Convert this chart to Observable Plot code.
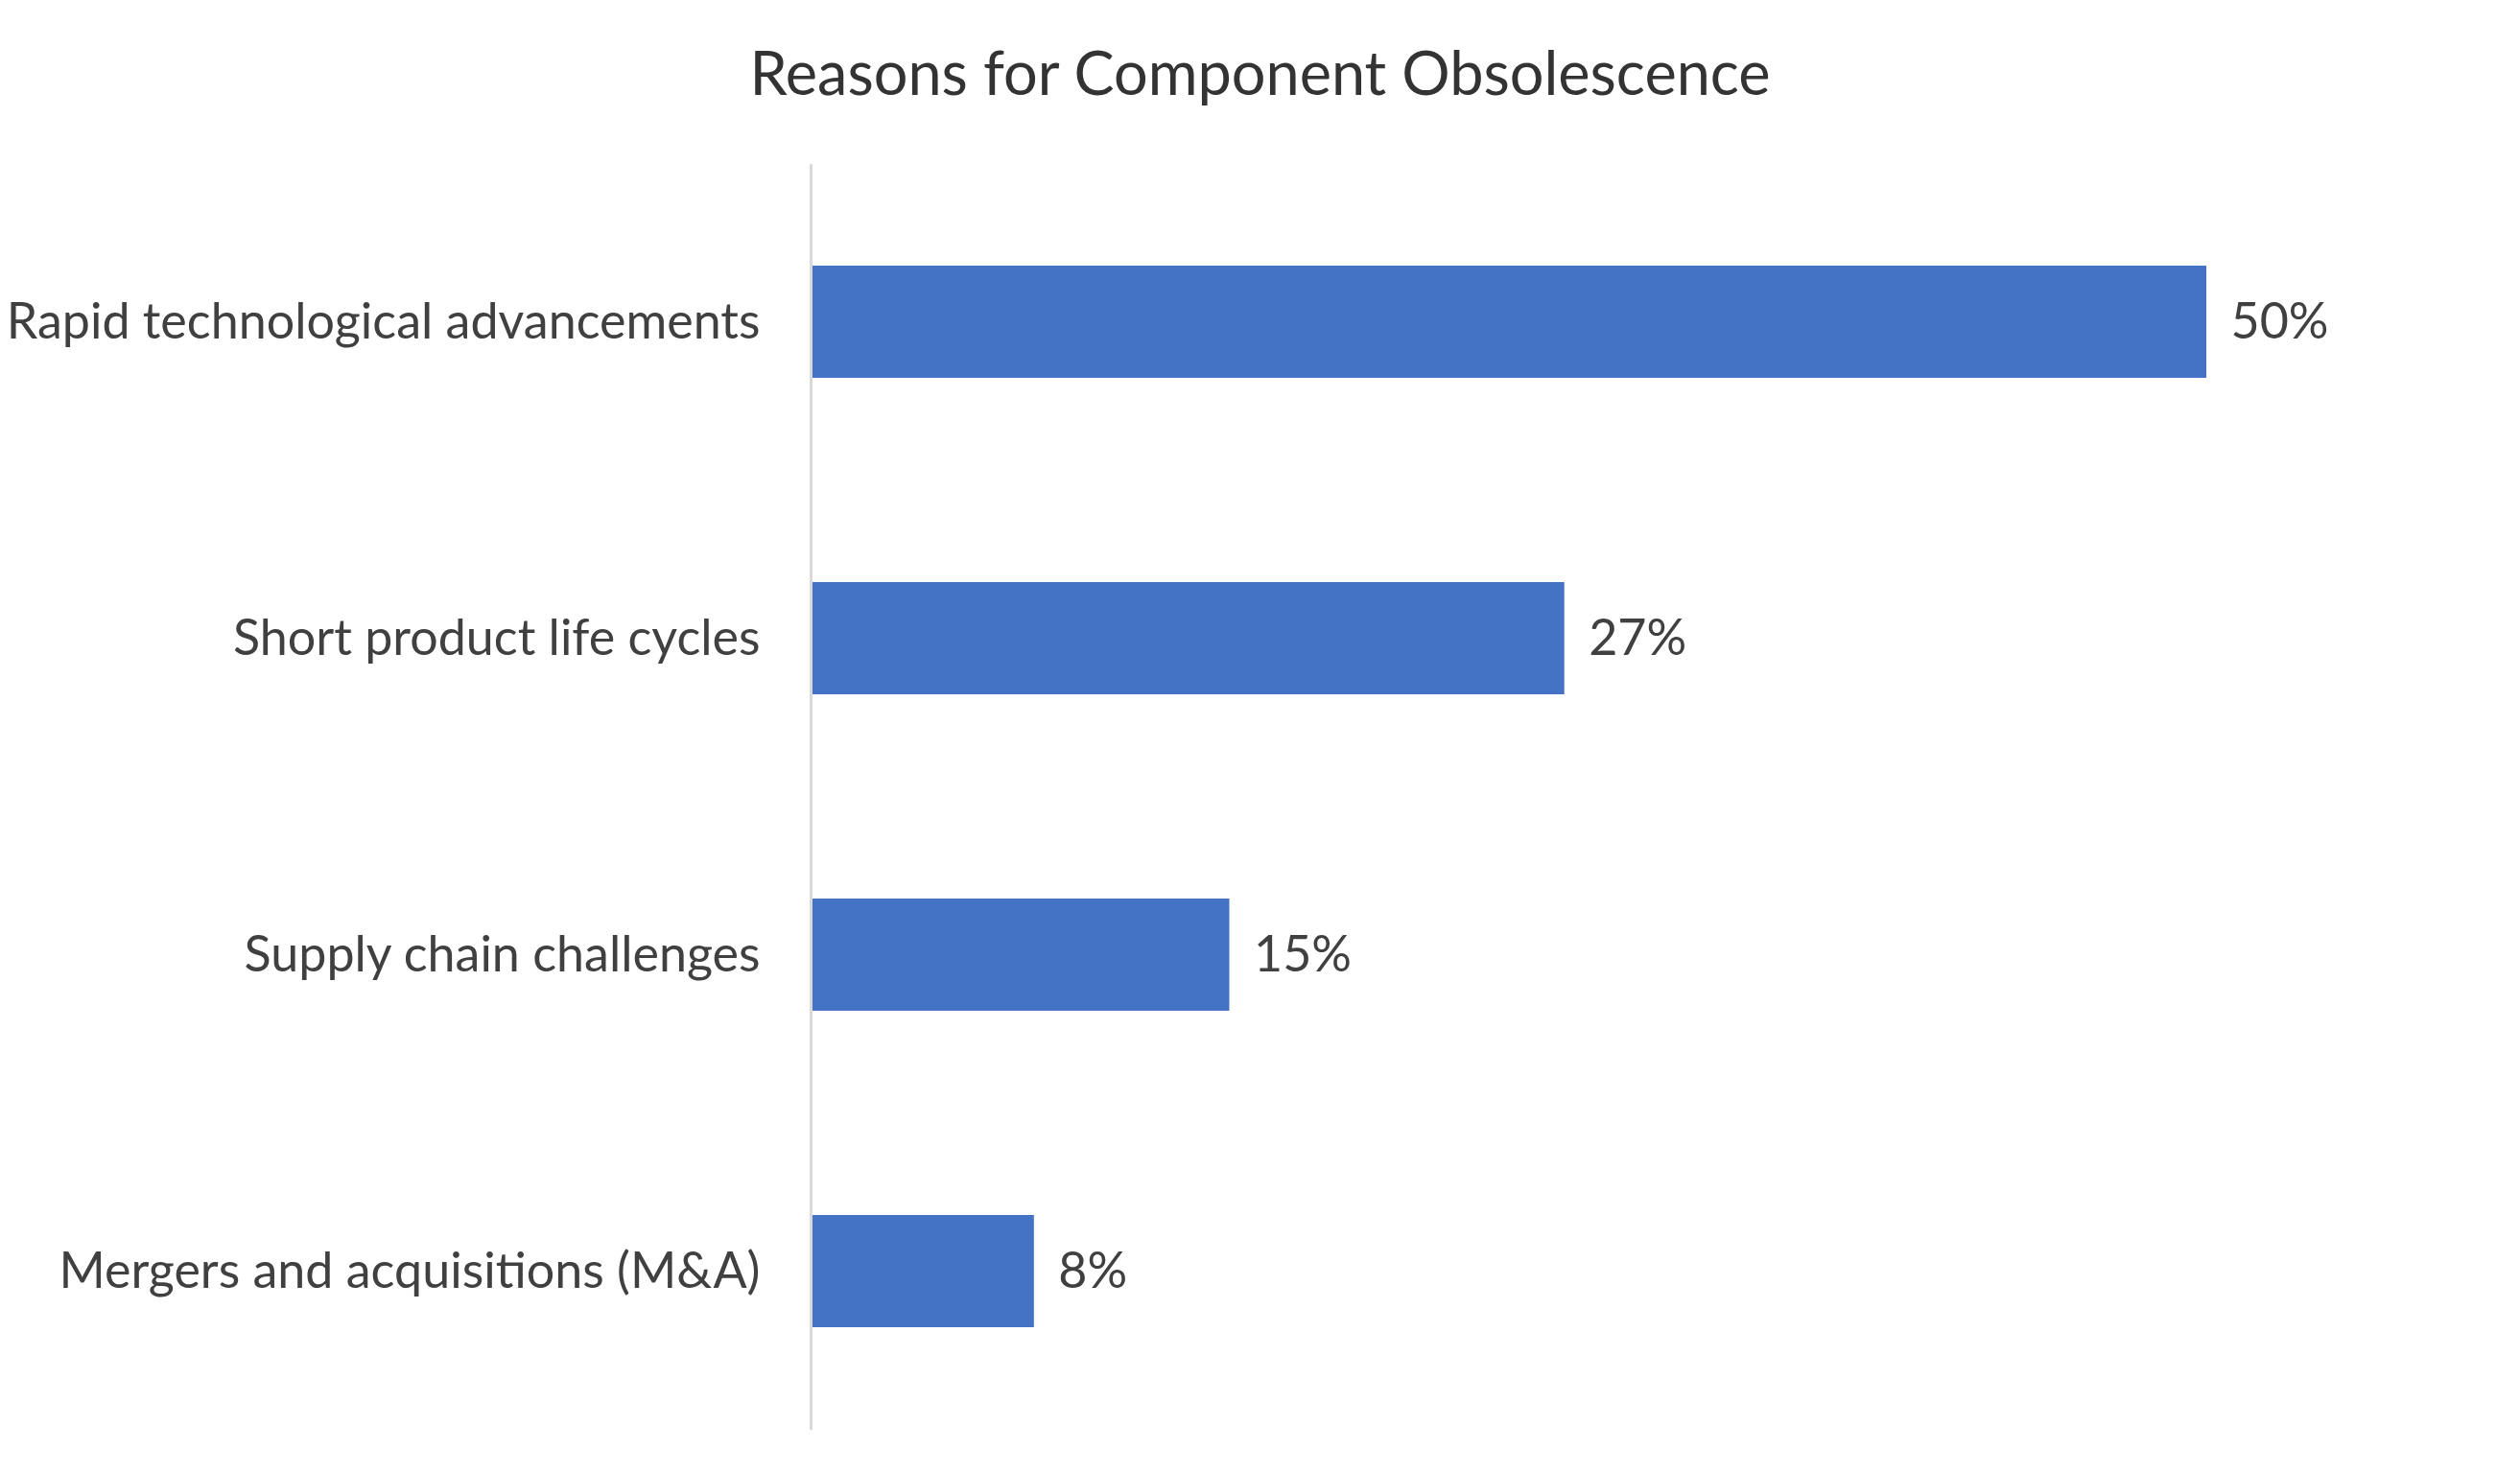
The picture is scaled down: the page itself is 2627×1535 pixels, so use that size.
<!DOCTYPE html>
<html><head><meta charset="utf-8">
<script src="https://cdn.jsdelivr.net/npm/d3@7"></script>
<script src="https://cdn.jsdelivr.net/npm/@observablehq/plot@0.6"></script>
<style>
body{margin:0;background:#fff;}
#title{height:140px;line-height:150px;text-align:center;font-family:Lato;font-size:63px;color:#333;}
</style></head><body>
<div id="title">Reasons for Component Obsolescence</div>
<div id="chart"></div>
<script>
const categories = ["Rapid technological advancements","Short product life cycles","Supply chain challenges","Mergers and acquisitions (M&A)"];
const values = [50,27,15,8];
const valueLabels = ["50%","27%","15%","8%"];
const data = categories.map((c,i)=>({category:c, value:values[i], label:valueLabels[i]}));
const chart = Plot.plot({
  width:2627, height:1395, marginLeft:845, marginRight:36, marginTop:31, marginBottom:44,
  x:{domain:[0,60], axis:null},
  y:{domain:categories, paddingInner:0.645, paddingOuter:0.3225, label:null, axis:null},
  style:{fontFamily:"Lato", fontSize:"52px", color:"#404040", background:"white"},
  marks:[
    Plot.barX(data,{x:"value", y:"category", fill:"#4472C4"}),
    Plot.ruleX([0],{stroke:"#d9d9d9", strokeWidth:3}),
    Plot.axisY({tickSize:0, tickPadding:53, fontSize:52, fill:"#404040", label:null}),
    Plot.text(data,{x:"value", y:"category", text:"label", dx:25, textAnchor:"start", fontSize:52, fill:"#404040"})
  ]
});
document.getElementById("chart").appendChild(chart);
</script>
</body></html>
